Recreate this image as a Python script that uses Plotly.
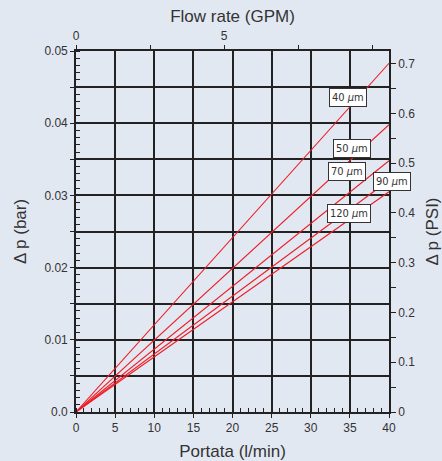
import plotly.graph_objects as go

# Data
flow_lpm = [0, 40]
series_names = ["40 <i>μ</i>m", "50 <i>μ</i>m", "70 <i>μ</i>m", "90 <i>μ</i>m", "120 <i>μ</i>m"]
dp_40 = [0, 0.0483]
dp_50 = [0, 0.0398]
dp_70 = [0, 0.0348]
dp_90 = [0, 0.0321]
dp_120 = [0, 0.0305]
series_values = [dp_40, dp_50, dp_70, dp_90, dp_120]

# label positions (fraction of plot area)
label_x = [0.929, 0.941, 0.926, 1.07, 0.941]
label_y = [0.898, 0.756, 0.666, 0.638, 0.551]

x_ticks = [0, 5, 10, 15, 20, 25, 30, 35, 40]
y_tickvals = [0, 0.005, 0.01, 0.015, 0.02, 0.025, 0.03, 0.035, 0.04, 0.045, 0.05]
y_ticktext = ["0.0", "", "0.01", "", "0.02", "", "0.03", "", "0.04", "", "0.05"]
psi_tickvals = [0, 0.05, 0.1, 0.15, 0.2, 0.25, 0.3, 0.35, 0.4, 0.45, 0.5, 0.55, 0.6, 0.65, 0.7]
psi_ticktext = ["0", "", "0.1", "", "0.2", "", "0.3", "", "0.4", "", "0.5", "", "0.6", "", "0.7"]
gpm_tickvals = [0, 2.5, 5, 7.5, 10]
gpm_ticktext = ["0", "", "5", "", ""]

LPM_PER_GPM = 3.78541
PSI_PER_BAR = 14.5038
X_MAX = 40
Y_MAX = 0.05

BG = "#e2e8f2"

fig = go.Figure()
for name, vals in zip(series_names, series_values):
    fig.add_trace(go.Scatter(x=flow_lpm, y=vals, mode="lines", name=name,
                             line=dict(color="#ee1c25", width=1.1),
                             showlegend=False, hoverinfo="skip"))
# empty trace to instantiate the secondary axes
fig.add_trace(go.Scatter(x=[], y=[], xaxis="x2", yaxis="y2", showlegend=False))

axis_col = "#222222"
tickfont = dict(family="Liberation Sans, Arial, sans-serif", size=12, color="#333333")
titlefont = dict(family="Liberation Sans, Arial, sans-serif", size=17, color="#333333")

fig.update_layout(
    width=442, height=461,
    margin=dict(l=76, r=53, t=51, b=49),
    paper_bgcolor=BG,
    plot_bgcolor="rgba(0,0,0,0)",
    xaxis=dict(range=[0, X_MAX], tickvals=x_ticks, ticks="outside", ticklen=4,
               tickcolor=axis_col, showgrid=True, gridcolor=axis_col, gridwidth=1.7,
               zeroline=False, showline=True, linecolor=axis_col, linewidth=1.6,
               automargin=False,
               tickfont=tickfont, title=dict(text="Portata (l/min)", font=titlefont, standoff=11),
               minor=dict(ticks="inside", dtick=1, ticklen=4, tickcolor=axis_col, showgrid=False)),
    yaxis=dict(range=[0, Y_MAX], tickvals=y_tickvals, ticktext=y_ticktext, ticks="outside",
               ticklen=4, tickcolor=axis_col, showgrid=True, gridcolor=axis_col, gridwidth=1.7,
               zeroline=False, showline=True, linecolor=axis_col, linewidth=1.6,
               automargin=False,
               tickfont=tickfont, title=dict(text="Δ p (bar)", font=titlefont, standoff=13),
               minor=dict(ticks="inside", dtick=0.001, ticklen=4, tickcolor=axis_col, showgrid=False)),
    xaxis2=dict(overlaying="x", side="top", range=[0, X_MAX / LPM_PER_GPM],
                tickvals=gpm_tickvals, ticktext=gpm_ticktext, ticks="outside", ticklen=4,
                tickcolor=axis_col, showgrid=False, zeroline=False, showline=True,
                linecolor=axis_col, linewidth=1.6, tickfont=tickfont, automargin=False,
                title=dict(text="Flow rate (GPM)", font=titlefont, standoff=2)),
    yaxis2=dict(overlaying="y", side="right", range=[0, Y_MAX * PSI_PER_BAR],
                tickvals=psi_tickvals, ticktext=psi_ticktext, ticks="outside", ticklen=5,
                tickcolor=axis_col, showgrid=False, zeroline=False, showline=True,
                linecolor=axis_col, linewidth=1.6, tickfont=tickfont, automargin=False,
                title=dict(text="Δ p (PSI)", font=titlefont, standoff=14)),
)

for txt, lx, ly in zip(series_names, label_x, label_y):
    fig.add_annotation(x=lx, y=ly, xref="paper", yref="paper", text=txt, showarrow=False,
                       font=dict(family="Liberation Sans Narrow, DejaVu Sans Condensed, sans-serif",
                                 size=11, color="#333333"),
                       bgcolor="white", bordercolor="#333333", borderwidth=1, borderpad=2)

fig.write_html("out.html", config={"displayModeBar": False},
               post_script="document.body.style.margin='0';document.body.style.background='" + BG + "';")
